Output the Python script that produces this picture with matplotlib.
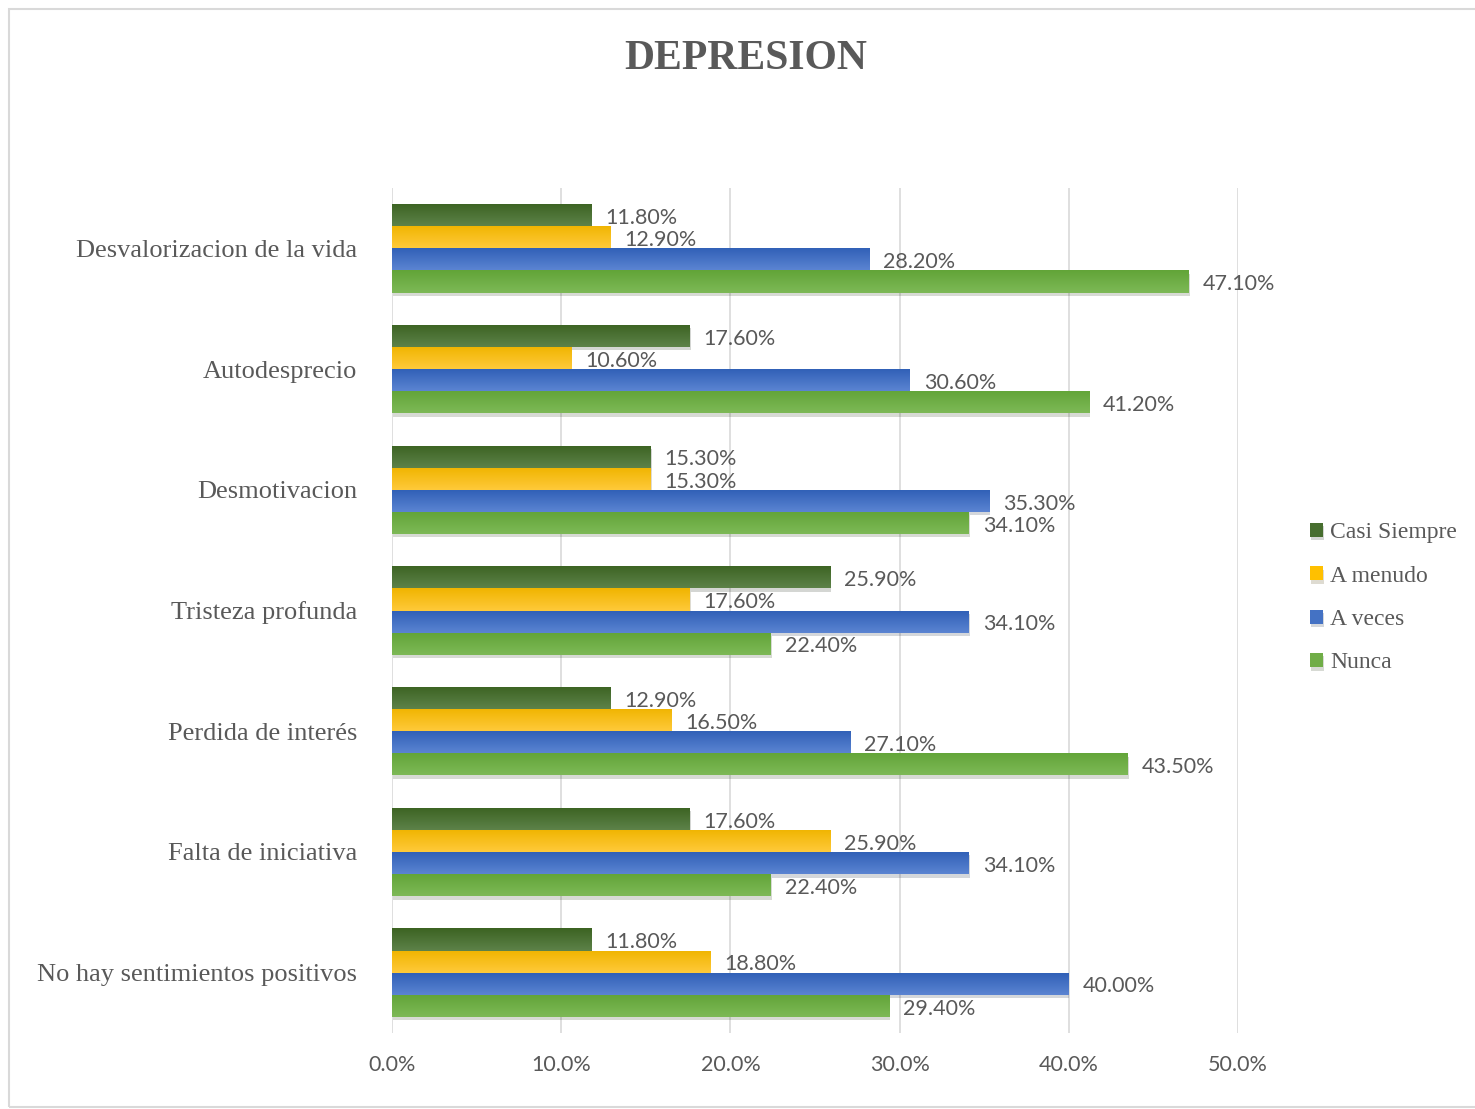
import numpy as np
import matplotlib.pyplot as plt
import matplotlib.patheffects as pe
from matplotlib.colors import LinearSegmentedColormap
from matplotlib.patches import Rectangle

# data (categories listed top to bottom as shown)
categories = ['Desvalorizacion de la vida', 'Autodesprecio', 'Desmotivacion',
              'Tristeza profunda', 'Perdida de interés', 'Falta de iniciativa',
              'No hay sentimientos positivos']
series = ['Casi Siempre', 'A menudo', 'A veces', 'Nunca']
casi_siempre = [11.8, 17.6, 15.3, 25.9, 12.9, 17.6, 11.8]
a_menudo = [12.9, 10.6, 15.3, 17.6, 16.5, 25.9, 18.8]
a_veces = [28.2, 30.6, 35.3, 34.1, 27.1, 34.1, 40.0]
nunca = [47.1, 41.2, 34.1, 22.4, 43.5, 22.4, 29.4]
values = [casi_siempre, a_menudo, a_veces, nunca]

# (top colour, bottom colour) for the bar gradient
grads = [('#5d8249', '#3c6322'), ('#ffca3a', '#f0b400'),
         ('#5b84d2', '#2f5fb6'), ('#7db956', '#62a438')]
solid = ['#476e2f', '#ffc000', '#4472c4', '#70ad47']

txt = '#595959'
serif = 'Liberation Serif'
sans = 'Lato'

fig = plt.figure(figsize=(14.75, 11.09), dpi=100)
ax = fig.add_axes([0.2658, 0.0685, 0.5735, 0.762])

# outer chart frame
fig.patches.append(Rectangle((0.006, 0.002), 1.2, 0.99, transform=fig.transFigure,
                             fill=False, edgecolor='#d9d9d9', lw=1.5))

y = np.arange(len(categories))
h = 0.183
for k, (name, vals) in enumerate(zip(series, values)):
    bars = ax.barh(y + (k - 1.5) * h, vals, height=h, color=solid[k], label=name,
                   zorder=3, path_effects=[pe.withSimplePatchShadow(offset=(0.5, -2.5), alpha=0.18)])
    cmap = LinearSegmentedColormap.from_list('g%d' % k, [grads[k][0], grads[k][1]])
    for b in bars:
        x0, y0 = b.get_x(), b.get_y()
        im = ax.imshow(np.linspace(0, 1, 50).reshape(-1, 1), cmap=cmap, aspect='auto',
                       extent=(x0, x0 + b.get_width(), y0, y0 + b.get_height()),
                       origin='upper', zorder=4)
        im.set_clip_path(b)
    for b, v in zip(bars, vals):
        ax.annotate('%.2f%%' % v, (b.get_width(), b.get_y() + b.get_height() / 2),
                    xytext=(10, -2), textcoords='offset points', ha='left', va='center',
                    fontsize=15.5, color=txt, family=sans, zorder=5)

ax.set_xlim(0, 50)
ax.set_ylim(len(categories) - 0.5, -0.5)
ax.set_xticks(np.arange(0, 51, 10))
ax.set_xticklabels(['%.1f%%' % t for t in np.arange(0, 51, 10)],
                   fontsize=15.5, color=txt, family=sans)
ax.set_yticks(y)
ax.set_yticklabels(categories, fontsize=19, color=txt, family=serif)
ax.tick_params(axis='both', length=0)
ax.tick_params(axis='y', pad=25)
ax.tick_params(axis='x', pad=16)
ax.grid(axis='x', color='#d9d9d9', lw=1.2, zorder=0)
for s in ax.spines.values():
    s.set_visible(False)

fig.text(0.5058, 0.947, 'DEPRESION', ha='center', va='center', fontsize=30,
         fontweight='bold', color=txt, family=serif)

leg = fig.legend(loc='center left', bbox_to_anchor=(0.874, 0.461), frameon=False,
                 prop={'family': serif, 'size': 17}, handlelength=0.55, handleheight=0.55,
                 handletextpad=0.3, labelspacing=0.95, labelcolor=txt)

plt.savefig('out.png', dpi=100)
